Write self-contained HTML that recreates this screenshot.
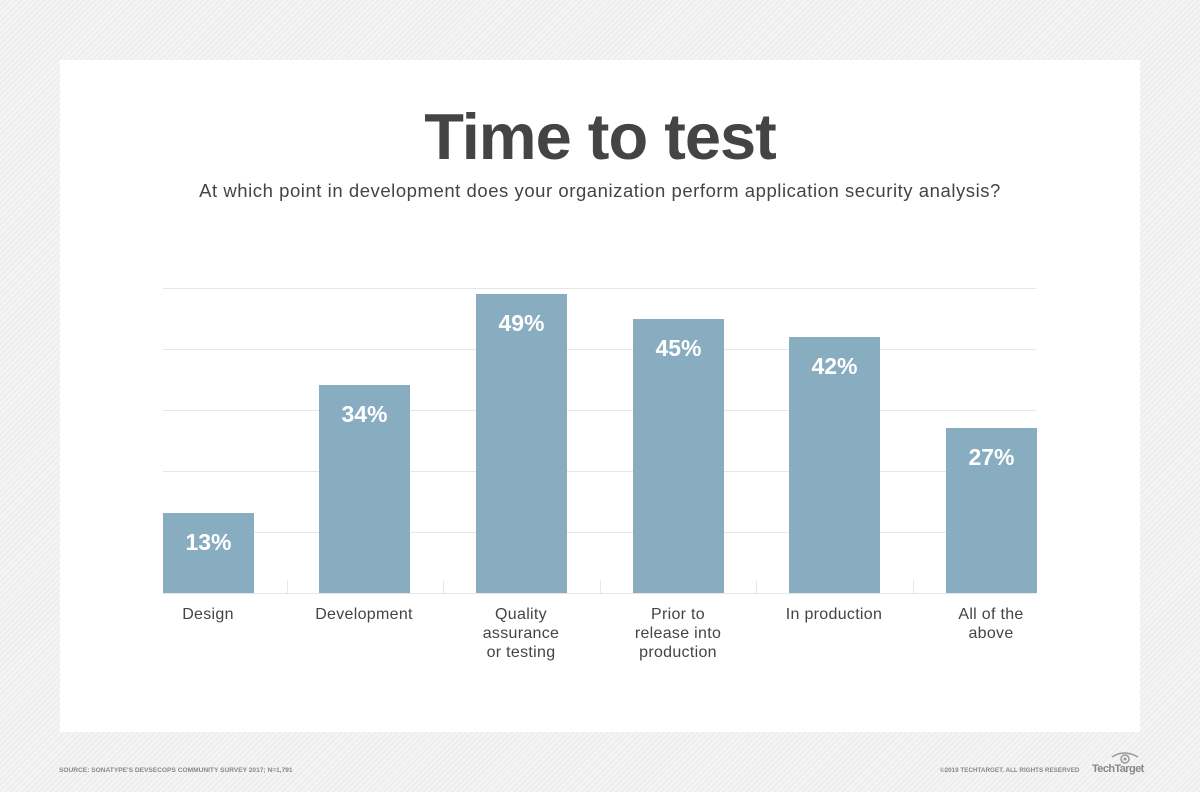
<!DOCTYPE html>
<html><head><meta charset="utf-8"><style>
body{margin:0;width:1200px;height:792px;overflow:hidden;font-family:"Liberation Sans",sans-serif;
background:#f1f1f1 repeating-linear-gradient(135deg,#f4f4f4 0 3px,#e9e9e9 3px 4px);position:relative}
.card{position:absolute;left:60px;top:60px;width:1080px;height:672px;background:#fff}
.t{position:absolute;left:0;width:1200px;text-align:center;color:#454545}
.grid{position:absolute;left:163px;width:873px;height:1px;background:#e6e6e6}
.bar{position:absolute;width:91px;background:#89adc0;color:#fff;font-weight:bold;font-size:23px;text-align:center;box-sizing:border-box;padding-top:16px}
.tick{position:absolute;top:580px;width:1px;height:13px;background:#e6e6e6}
.lab{position:absolute;top:605px;width:150px;text-align:center;font-size:16px;letter-spacing:0.3px;line-height:19px;color:#444}
</style></head><body>
<div class="card"></div>
<div class="t" style="top:99px;font-size:65px;font-weight:bold;letter-spacing:-1px;color:#444">Time to test</div>
<div class="t" style="top:180px;font-size:18.5px;letter-spacing:0.55px;color:#444">At which point in development does your organization perform application security analysis?</div>
<div class="grid" style="top:288px"></div>
<div class="grid" style="top:349px"></div>
<div class="grid" style="top:410px"></div>
<div class="grid" style="top:471px"></div>
<div class="grid" style="top:532px"></div>
<div class="grid" style="top:593px"></div>
<div class="tick" style="left:287px"></div><div class="tick" style="left:443px"></div><div class="tick" style="left:600px"></div><div class="tick" style="left:756px"></div><div class="tick" style="left:913px"></div>
<div class="bar" style="left:163px;top:513px;height:80px">13%</div>
<div class="bar" style="left:319px;top:385px;height:208px">34%</div>
<div class="bar" style="left:476px;top:294px;height:299px">49%</div>
<div class="bar" style="left:633px;top:319px;height:274px">45%</div>
<div class="bar" style="left:789px;top:337px;height:256px">42%</div>
<div class="bar" style="left:946px;top:428px;height:165px">27%</div>
<div class="lab" style="left:133px">Design</div>
<div class="lab" style="left:289px">Development</div>
<div class="lab" style="left:446px">Quality<br>assurance<br>or testing</div>
<div class="lab" style="left:603px">Prior to<br>release into<br>production</div>
<div class="lab" style="left:759px">In production</div>
<div class="lab" style="left:916px">All of the<br>above</div>
<div style="position:absolute;left:59px;top:767px;font-size:6.6px;font-weight:bold;color:#888">SOURCE: SONATYPE'S DEVSECOPS COMMUNITY SURVEY 2017; N=1,791</div>
<div style="position:absolute;left:940px;top:767px;font-size:6.3px;font-weight:bold;color:#888">©2019 TECHTARGET. ALL RIGHTS RESERVED</div>
<div style="position:absolute;left:1092px;top:763px;font-size:11px;font-weight:bold;color:#888;letter-spacing:-0.6px">TechTarget</div>
<svg style="position:absolute;left:1110px;top:751px" width="32" height="14"><path d="M2 6 Q14 -2 28 6" fill="none" stroke="#999" stroke-width="1.5"/><circle cx="15" cy="8" r="4" fill="none" stroke="#999" stroke-width="1.5"/><circle cx="15" cy="8" r="1.5" fill="#999"/></svg>
</body></html>
